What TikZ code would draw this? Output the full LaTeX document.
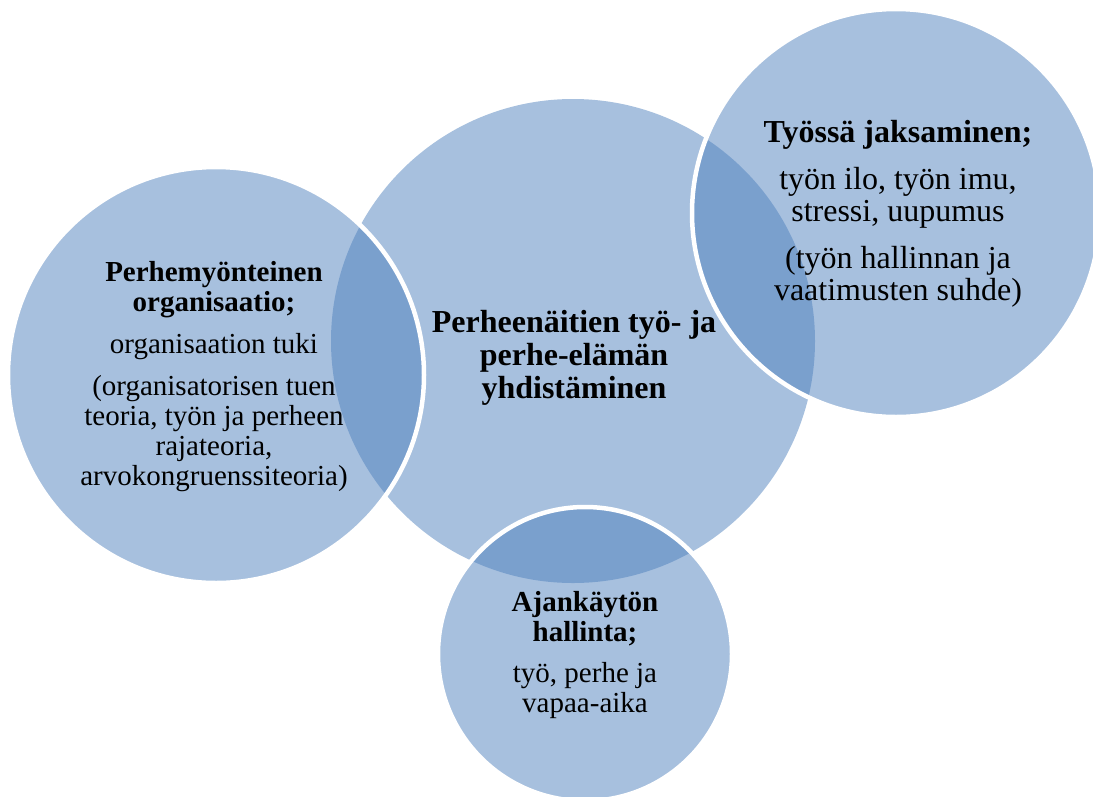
\documentclass[tikz,border=0pt]{standalone}
\usepackage{fontspec}
\setmainfont{Liberation Serif}
\definecolor{accblue}{HTML}{4F81BD}
\begin{document}
\begin{tikzpicture}[x=1pt, y=-1pt,
		ring/.style={fill=accblue, fill opacity=0.5},
		rim/.style={ring, draw=white, line width=4.5pt},
		txt/.style={align=center, inner sep=0pt}]
		\useasboundingbox (0,0) rectangle (1093,796);

		% circles: the middle one first, the others over it
		\fill[ring]		(573,341) circle (242);
		\draw[rim]		(216,375) circle (208);
		\draw[rim]		(896,213) circle (204);
		\draw[rim]		(585,654) circle (147);

		\node[txt, font=\fontsize{32}{33}\selectfont\bfseries] (yhd) at (574,358)
			{Perheenäitien työ- ja\\ perhe-elämän\\ yhdistäminen};
		\node[txt, font=\fontsize{29}{30}\selectfont] (org) at (214,377)
			{\textbf{Perhemyönteinen}\\ \textbf{organisaatio;}\\[12pt] organisaation tuki\\[12pt]
			(organisatorisen tuen\\ teoria, työn ja perheen\\ rajateoria,\\ arvokongruenssiteoria)};
		\node[txt, font=\fontsize{32}{32.5}\selectfont] (jak) at (898,214)
			{\textbf{Työssä jaksaminen;}\\[14pt] työn ilo, työn imu,\\ stressi, uupumus\\[14pt]
			(työn hallinnan ja\\ vaatimusten suhde)};
		\node[txt, font=\fontsize{29}{30}\selectfont] (aik) at (585,655)
			{\textbf{Ajankäytön}\\ \textbf{hallinta;}\\[11pt] työ, perhe ja\\ vapaa-aika};
	\end{tikzpicture}
\end{document}
